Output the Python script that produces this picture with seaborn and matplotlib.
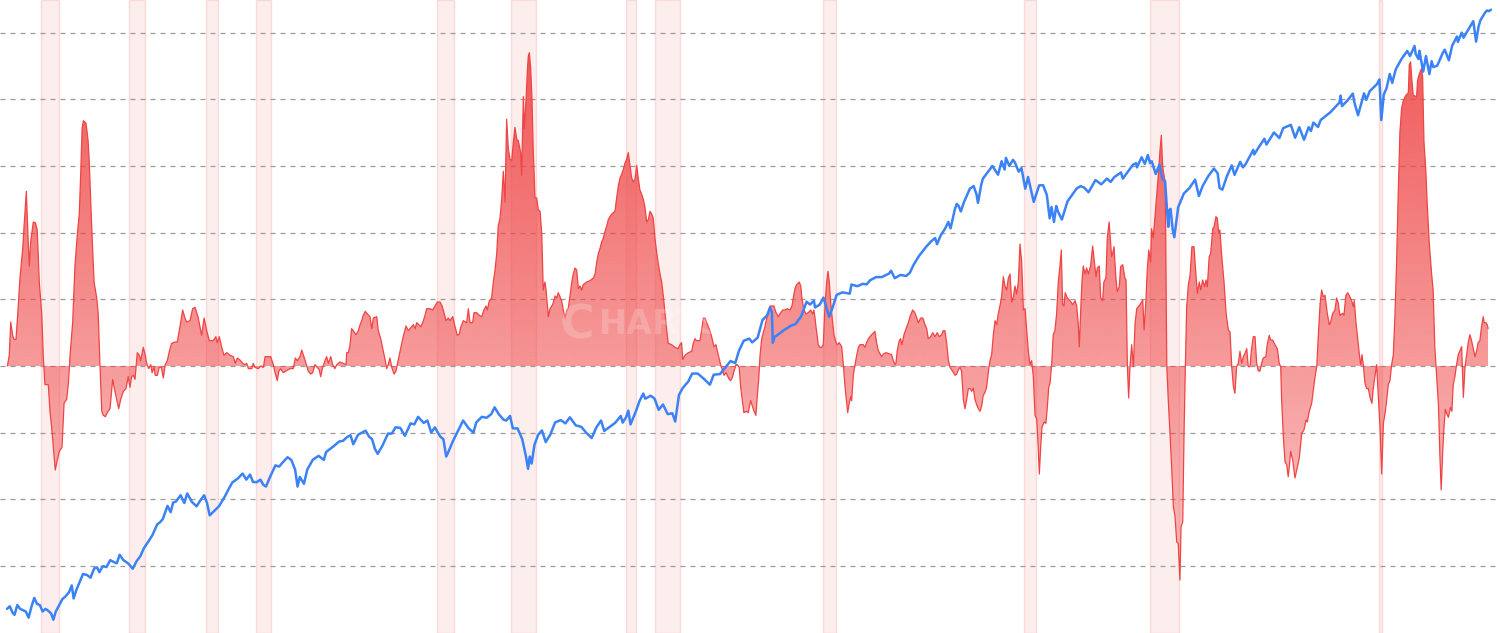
import numpy as np
import matplotlib
matplotlib.use("Agg")
import matplotlib.pyplot as plt
import seaborn as sns
from matplotlib.path import Path
from matplotlib.colors import to_rgb

# ---------------- data ----------------
# Red series: commodity producer-price index, year-over-year change (%)
red_year = [
    1947.02, 1947.12, 1947.20, 1947.30, 1947.37, 1947.48, 1947.60, 1947.69, 1947.84, 1947.91,
    1948.03, 1948.13, 1948.19, 1948.26, 1948.40, 1948.51, 1948.61, 1948.72, 1948.85, 1948.93,
    1949.02, 1949.20, 1949.29, 1949.38, 1949.47, 1949.57, 1949.68, 1949.79, 1949.93, 1950.04,
    1950.18, 1950.27, 1950.36, 1950.50, 1950.62, 1950.75, 1950.85, 1950.93, 1951.00, 1951.07,
    1951.21, 1951.32, 1951.38, 1951.51, 1951.64, 1951.78, 1951.86, 1951.95, 1952.05, 1952.13,
    1952.24, 1952.34, 1952.49, 1952.63, 1952.75, 1952.84, 1952.95, 1953.06, 1953.20, 1953.34,
    1953.46, 1953.55, 1953.64, 1953.73, 1953.82, 1953.94, 1954.05, 1954.12, 1954.26, 1954.37,
    1954.44, 1954.55, 1954.66, 1954.73, 1954.83, 1954.90, 1955.01, 1955.11, 1955.22, 1955.33,
    1955.43, 1955.54, 1955.65, 1955.77, 1955.95, 1956.07, 1956.22, 1956.36, 1956.48, 1956.57,
    1956.75, 1956.89, 1957.02, 1957.19, 1957.37, 1957.50, 1957.64, 1957.78, 1957.99, 1958.13,
    1958.20, 1958.31, 1958.44, 1958.56, 1958.70, 1958.88, 1959.06, 1959.16, 1959.27, 1959.41,
    1959.56, 1959.68, 1959.77, 1959.86, 1960.04, 1960.12, 1960.21, 1960.39, 1960.52, 1960.66,
    1960.75, 1961.05, 1961.19, 1961.28, 1961.40, 1961.48, 1961.58, 1961.72, 1961.83, 1962.08,
    1962.25, 1962.36, 1962.47, 1962.61,
    1962.70, 1962.82, 1962.93, 1963.05, 1963.18, 1963.29, 1963.41, 1963.53, 1963.64, 1963.71,
    1963.82, 1963.94, 1964.03, 1964.12, 1964.25, 1964.35, 1964.47, 1964.57, 1964.74, 1964.92,
    1965.06, 1965.10, 1965.18, 1965.27, 1965.36, 1965.45, 1965.59, 1965.72, 1965.81, 1965.90,
    1965.98, 1966.09, 1966.20, 1966.34, 1966.43, 1966.52, 1966.70, 1966.78, 1966.91, 1967.05,
    1967.14, 1967.23, 1967.31, 1967.40, 1967.50, 1967.62, 1967.72, 1967.85, 1967.97, 1968.11,
    1968.26, 1968.38, 1968.56, 1968.65, 1968.74, 1968.83, 1969.04, 1969.15, 1969.27, 1969.36,
    1969.54, 1969.68, 1969.80, 1969.93, 1970.07, 1970.18, 1970.28, 1970.39, 1970.51, 1970.60,
    1970.75, 1970.87, 1970.99, 1971.10, 1971.17, 1971.31, 1971.49, 1971.58, 1971.67, 1971.81,
    1971.88, 1972.02, 1972.16, 1972.29, 1972.41, 1972.52, 1972.59, 1972.70, 1972.82, 1972.91,
    1973.00, 1973.09, 1973.17, 1973.27, 1973.36, 1973.44, 1973.53, 1973.62, 1973.71, 1973.80,
    1973.89, 1973.97, 1974.06, 1974.16, 1974.24, 1974.37, 1974.42, 1974.51, 1974.56, 1974.65,
    1974.72, 1974.77, 1974.83, 1974.90, 1974.97, 1975.04, 1975.13, 1975.22, 1975.31, 1975.40,
    1975.49, 1975.57, 1975.66, 1975.72, 1975.84, 1975.93, 1976.07, 1976.20, 1976.29, 1976.37,
    1976.46, 1976.55, 1976.64, 1976.73, 1976.82, 1976.90, 1976.99, 1977.09, 1977.17, 1977.26,
    1977.35, 1977.44, 1977.53, 1977.62, 1977.70, 1977.88, 1978.06, 1978.24, 1978.33, 1978.42,
    1978.50, 1978.59, 1978.68, 1978.77, 1978.86, 1978.95, 1979.04, 1979.22, 1979.39, 1979.48,
    1979.57, 1979.66, 1979.75, 1979.83, 1979.92, 1980.01, 1980.10, 1980.19, 1980.28, 1980.37,
    1980.46, 1980.55, 1980.63, 1980.72, 1980.81, 1980.90, 1980.99, 1981.08, 1981.17, 1981.26,
    1981.35, 1981.43, 1981.52, 1981.61, 1981.70, 1981.79, 1981.88, 1981.97, 1982.06, 1982.15,
    1982.23, 1982.41, 1982.59, 1982.76, 1982.85, 1982.94, 1983.00, 1983.12, 1983.30, 1983.48,
    1983.56, 1983.65, 1983.74, 1983.92, 1984.01, 1984.10, 1984.19, 1984.28, 1984.36,
    1984.45, 1984.54, 1984.67, 1984.77, 1984.84, 1984.95, 1985.02, 1985.13, 1985.20, 1985.31,
    1985.37, 1985.48, 1985.56, 1985.66, 1985.73, 1985.84, 1985.91, 1986.01, 1986.09, 1986.20,
    1986.26, 1986.37, 1986.49, 1986.62, 1986.73, 1986.80, 1986.90, 1986.97, 1987.05, 1987.12,
    1987.21, 1987.29, 1987.38, 1987.47, 1987.56, 1987.65, 1987.79, 1987.86, 1987.97, 1988.09,
    1988.22, 1988.33, 1988.45, 1988.57, 1988.72, 1988.82, 1988.89, 1988.98, 1989.07, 1989.21,
    1989.29, 1989.35, 1989.46, 1989.57, 1989.69, 1989.82, 1989.92, 1989.99, 1990.05, 1990.10,
    1990.17, 1990.22, 1990.31, 1990.40, 1990.49, 1990.58, 1990.67, 1990.74, 1990.81, 1990.88,
    1990.99, 1991.06, 1991.17, 1991.24, 1991.34, 1991.47, 1991.56, 1991.65, 1991.74, 1991.79,
    1991.87, 1991.95, 1992.00, 1992.09, 1992.18, 1992.27, 1992.36, 1992.44, 1992.62, 1992.71,
    1992.80, 1992.89, 1993.07, 1993.24, 1993.33, 1993.42, 1993.60, 1993.69, 1993.83, 1994.13,
    1994.22, 1994.31, 1994.36, 1994.43, 1994.54, 1994.61, 1994.68, 1994.79, 1994.90, 1995.02,
    1995.11,
    1995.25, 1995.37, 1995.47, 1995.55, 1995.68, 1995.79, 1995.91, 1996.00, 1996.08, 1996.21,
    1996.32, 1996.44, 1996.56, 1996.67, 1996.80, 1996.88, 1996.97, 1997.06, 1997.15, 1997.24,
    1997.38, 1997.51, 1997.60, 1997.68, 1997.77, 1997.86, 1997.95, 1998.04, 1998.13, 1998.22,
    1998.31, 1998.40, 1998.48, 1998.57, 1998.66, 1998.75, 1998.84, 1998.93, 1999.01, 1999.10,
    1999.19, 1999.28, 1999.37, 1999.46, 1999.55, 1999.64, 1999.73, 1999.81, 1999.90, 1999.99,
    2000.08, 2000.17, 2000.26, 2000.35, 2000.44, 2000.53, 2000.62, 2000.70, 2000.79, 2000.88,
    2000.97, 2001.06, 2001.15, 2001.24, 2001.33, 2001.41, 2001.50, 2001.59, 2001.68, 2001.77,
    2001.86, 2001.94, 2002.00, 2002.07, 2002.14, 2002.25, 2002.35, 2002.42, 2002.50, 2002.57,
    2002.66, 2002.74, 2002.83, 2002.92, 2003.01, 2003.10, 2003.17, 2003.24, 2003.31, 2003.38,
    2003.49, 2003.63, 2003.78, 2003.90, 2003.99, 2004.07, 2004.13, 2004.20, 2004.27, 2004.34,
    2004.43, 2004.52, 2004.61, 2004.73, 2004.84, 2004.91, 2005.02, 2005.09, 2005.19, 2005.27,
    2005.37, 2005.44, 2005.55, 2005.62, 2005.72,
    2005.85, 2005.91, 2005.98, 2006.08, 2006.15, 2006.26, 2006.33, 2006.44, 2006.56, 2006.62,
    2006.69, 2006.76, 2006.83, 2006.92, 2007.01, 2007.10, 2007.19, 2007.36, 2007.51, 2007.58,
    2007.68, 2007.75, 2007.83, 2007.93, 2007.98, 2008.07, 2008.16, 2008.25, 2008.36, 2008.43,
    2008.50, 2008.57, 2008.64, 2008.71, 2008.79, 2008.87, 2008.96, 2009.05, 2009.14, 2009.23,
    2009.32, 2009.40, 2009.49, 2009.55, 2009.64, 2009.71, 2009.78, 2009.85, 2009.94, 2010.03,
    2010.13, 2010.24, 2010.35, 2010.42, 2010.52, 2010.60, 2010.70, 2010.81, 2010.88, 2010.95,
    2011.05, 2011.13, 2011.24, 2011.31, 2011.41, 2011.48, 2011.56, 2011.62, 2011.72, 2011.84,
    2011.95, 2012.07, 2012.16, 2012.25, 2012.34, 2012.42, 2012.51, 2012.60, 2012.69, 2012.78,
    2012.87, 2012.96, 2013.05, 2013.13, 2013.22, 2013.31, 2013.40, 2013.49, 2013.58, 2013.66,
    2013.75, 2013.84, 2013.93, 2014.07, 2014.14, 2014.25, 2014.32, 2014.43, 2014.55, 2014.68,
    2014.78, 2014.86, 2014.91, 2015.00, 2015.09, 2015.18, 2015.26, 2015.32, 2015.39, 2015.50,
    2015.62, 2015.71, 2015.85, 2015.98, 2016.10, 2016.21, 2016.28, 2016.38, 2016.51, 2016.60,
    2016.69, 2016.78, 2016.87, 2016.96, 2017.04, 2017.13, 2017.22, 2017.34, 2017.45, 2017.52,
    2017.63, 2017.75, 2017.84, 2017.93, 2018.01, 2018.16, 2018.23, 2018.33, 2018.43, 2018.54,
    2018.64, 2018.73, 2018.78, 2018.87, 2018.94, 2019.05, 2019.12, 2019.19, 2019.26, 2019.35,
    2019.44, 2019.53, 2019.62, 2019.72, 2019.79, 2019.88, 2019.97, 2020.06, 2020.15, 2020.24,
    2020.33, 2020.42, 2020.51, 2020.59, 2020.68, 2020.77, 2020.86, 2020.95, 2021.04, 2021.12,
    2021.21, 2021.30, 2021.39, 2021.53, 2021.66, 2021.71, 2021.78, 2021.85, 2021.92, 2022.10,
    2022.15, 2022.24, 2022.36, 2022.42, 2022.49, 2022.59, 2022.66, 2022.77, 2022.90, 2022.98,
    2023.07, 2023.13, 2023.20, 2023.27, 2023.34, 2023.41, 2023.49, 2023.56, 2023.63, 2023.70,
    2023.79, 2023.91, 2023.98, 2024.05, 2024.14, 2024.23, 2024.32, 2024.41, 2024.50, 2024.59,
    2024.68, 2024.77, 2024.85, 2024.94, 2025.03, 2025.12, 2025.21, 2025.30, 2025.38, 2025.47,
    2025.56, 2025.65, 2025.70, 2025.79, 2025.86, 2025.91,
]
red_pct = [
    0.0, 0.8, 3.3, 2.3, 2.0, 2.0, 4.5, 6.6, 8.85, 10.5,
    13.1, 9.3, 7.5, 9.3, 10.8, 10.75, 10.2, 6.3, 3.9, 0.8,
    -1.4, -1.4, -3.4, -4.6, -6.1, -7.8, -7.05, -6.4, -6.1, -2.8,
    -2.5, -1.3, 0.8, 3.3, 7.5, 9.9, 11.4, 14.5, 17.8, 18.4,
    18.2, 16.9, 15.4, 10.5, 6.3, 5.1, 3.9, 0.2, -3.4, -3.7,
    -3.8, -3.5, -3.2, -1.0, -1.9, -2.5, -3.2, -2.5, -1.9, -1.7,
    -0.8, -1.6, -0.8, -0.7, -1.0, 1.0, 0.8, 0.4, 1.4, 0.8,
    0.2, -0.2, 0.1, -0.5, -0.1, -0.7, -0.7, -0.1, -0.1, -0.9,
    0.1, 0.4, 1.1, 1.7, 1.8, 1.8, 3.0, 4.2, 3.6, 3.3,
    3.4, 4.3, 4.4, 3.6, 2.3, 3.6, 2.65, 1.9, 1.9, 2.2,
    1.75, 2.2, 1.4, 0.8, 1.0, 0.8, 0.7, 0.2, 0.6, 0.45,
    0.2, 0.1, 0.2, -0.2, -0.2, 0.2, -0.1, -0.2, 0.0, -0.1,
    0.7, 0.7, 0.1, -0.5, -1.1, -0.4, -0.2, -0.5, -0.4, -0.2,
    -0.2, 0.6, 0.4, 0.7,
    1.2, 0.7, 0.2, -0.4, -0.6, -0.5, 0.1, -0.1, -0.3, -0.8,
    -0.1, 0.4, 0.7, 0.2, 0.7, 0.1, -0.2, 0.1, 0.3, 0.2,
    0.1, 1.0, 1.0, 1.5, 2.8, 2.65, 2.35, 2.65, 3.1, 3.4,
    3.8, 4.1, 3.9, 3.7, 2.8, 3.6, 3.7, 2.65, 2.05, 1.1,
    0.5, -0.2, 0.1, 0.6, -0.1, -0.6, -0.4, 0.5, 1.3, 2.2,
    3.0, 2.65, 2.95, 3.1, 2.8, 3.25, 2.95, 3.25, 3.8, 4.3,
    4.3, 4.2, 4.5, 4.8, 4.8, 4.5, 4.0, 3.4, 3.6, 3.4,
    3.7, 2.95, 2.3, 2.4, 2.9, 3.4, 3.25, 4.3, 3.25, 3.25,
    4.0, 4.0, 3.8, 3.7, 4.2, 4.5, 4.2, 4.9, 5.1, 6.3,
    7.2, 8.4, 10.5, 11.1, 12.6, 14.6, 12.3, 18.5, 16.3, 15.5,
    15.4, 16.7, 17.9, 17.0, 16.9, 16.0, 14.3, 20.2, 17.8, 19.9,
    22.0, 23.2, 23.5, 22.3, 20.0, 16.0, 12.6, 12.6, 11.7, 11.6,
    9.9, 5.7, 6.3, 5.7, 3.7, 4.3, 4.6, 5.25, 5.1, 5.5,
    5.2, 4.9, 4.2, 3.6, 4.2, 4.3, 5.2, 6.3, 6.9, 7.35,
    7.2, 5.8, 6.0, 5.7, 6.1, 6.3, 6.4, 6.6, 6.9, 7.8,
    8.4, 8.8, 9.3, 9.6, 10.1, 10.5, 11.0, 11.4, 11.6, 12.6,
    13.5, 14.1, 14.4, 14.7, 15.2, 15.5, 16.0, 15.05, 14.1, 13.8,
    14.0, 15.05, 14.1, 13.2, 12.9, 12.5, 11.9, 10.8, 11.0, 11.6,
    11.4, 11.1, 9.6, 8.55, 7.65, 6.9, 6.3, 5.2, 3.9, 2.65,
    1.7, 1.6, 1.4, 1.3, 1.6, 1.75, 0.5, 0.8, 1.0, 1.1,
    1.7, 2.05, 1.9, 1.9, 2.7, 3.6, 3.6, 3.25, 2.95,
    2.65, 2.2, 1.45, 1.6, 1.15, 0.5, 0.1, -0.4, -0.7, -0.5,
    -0.7, -1.0, -1.1, -0.8, -0.4, 0.1, 0.1, -0.1, -1.6, -2.8,
    -3.5, -3.4, -3.5, -2.6, -3.1, -3.4, -3.7, -2.3, -1.0, 0.8,
    2.05, 2.5, 2.95, 3.55, 4.0, 4.5, 4.5, 4.5, 4.0, 3.7,
    4.0, 4.2, 4.2, 4.3, 4.2, 4.5, 5.1, 5.8, 6.1, 6.3,
    6.0, 5.1, 4.2, 3.9, 4.0, 4.2, 3.9, 4.2, 3.6, 2.95,
    2.2, 1.6, 1.4, 1.4, 1.6, 4.5, 6.3, 7.1, 6.3, 4.8,
    3.25, 2.35, 1.75, 1.6, 1.75, 1.45, 0.1, -1.6, -2.8, -3.5,
    -2.8, -2.3, -2.6, -0.7, 0.1, 0.8, 1.4, 1.6, 1.6, 1.4,
    1.75, 2.05, 2.35, 2.6, 1.75, 1.15, 0.7, 0.9, 1.0, 0.85,
    0.4, 0.1, 0.2, 1.15, 1.9, 2.05, 1.6, 2.35, 2.8, 3.25,
    3.7,
    4.2, 4.0, 3.6, 3.25, 3.6, 3.6, 3.1, 2.8, 2.05, 2.2,
    2.5, 2.2, 2.5, 2.2, 2.35, 2.65, 2.65, 1.75, 0.5, -0.1,
    -0.4, -0.7, -0.6, -0.3, -0.1, -0.4, -2.5, -3.2, -2.5, -1.7,
    -1.7, -1.9, -1.65, -2.5, -2.9, -3.2, -3.4, -3.0, -2.2, -2.0,
    -1.6, -0.5, 0.4, 0.85, 2.35, 3.4, 3.1, 3.9, 4.5, 5.2,
    6.7, 6.0, 5.7, 6.6, 6.9, 4.8, 5.2, 6.0, 5.4, 6.3,
    9.15, 7.8, 4.2, 4.3, 2.65, 1.15, 0.1, 0.4, -0.8, -3.7,
    -4.0, -6.1, -8.1, -6.1, -4.6, -4.2, -4.3, -3.2, -1.6, -1.3,
    0.2, 2.35, 2.65, 3.9, 6.3, 7.5, 8.7, 4.6, 4.5, 5.5,
    5.1, 4.9, 4.6, 4.9, 4.5, 3.25, 1.45, 4.0, 6.3, 7.5,
    6.9, 7.35, 6.9, 7.5, 9.0, 8.1, 6.7, 7.35, 7.5, 5.1,
    4.9, 6.3, 6.6, 9.6, 10.8,
    8.2, 8.45, 8.95, 6.6, 5.6, 5.95, 7.45, 7.6, 6.6, 6.45,
    -0.05, -2.4, -0.05, 1.6, -0.05, 3.2, 4.3, 4.6, 4.95, 2.7,
    4.95, 7.2, 8.7, 7.8, 10.3, 9.6, 11.2, 12.7, 14.7, 16.2,
    17.3, 14.95, 14.3, 13.7, -0.05, -2.55, -5.05, -7.55, -10.55, -11.3,
    -13.2, -13.3, -16.05, -12.05, -11.7, -5.05, -0.05, 4.45, 6.1, 6.8,
    8.95, 8.95, 6.7, 5.45, 6.3, 5.7, 6.45, 5.95, 6.45, 5.95,
    8.2, 8.45, 10.3, 10.45, 11.2, 11.1, 9.95, 10.2, 8.2, 6.3,
    3.95, 2.7, 2.55, -0.05, -1.55, -2.05, -0.05, 0.2, 1.1, 0.2,
    0.7, 0.95, 1.3, -0.05, -0.05, 1.3, 2.2, 2.2, 0.2, -0.35,
    -0.4, 0.2, 0.6, 0.7, 1.6, 2.3, 1.95, 1.95, 1.6, 1.3,
    0.2, -0.05, -2.55, -5.3, -7.2, -7.4, -8.3, -7.55, -6.4, -7.05,
    -8.4, -7.8, -6.9, -5.05, -4.8, -4.05, -4.2, -3.4, -2.8, -1.8,
    -0.8, -0.05, 2.45, 4.7, 5.7, 5.2, 5.3, 3.95, 3.1, 3.3,
    3.95, 4.2, 5.1, 4.7, 3.8, 3.95, 3.8, 5.3, 5.5, 5.2,
    4.9, 4.45, 4.9, 3.25, 2.35, 0.85, 0.1, 0.85, 0.1, -1.3,
    -1.7, -1.7, -2.35, -2.8, -1.7, -0.8, 0.1, -2.2, -4.6, -8.1,
    -4.3, -3.55, -2.5, -1.4, -1.1, 0.1, 0.85, 3.9, 8.1, 12.9,
    17.5, 19.3, 19.9, 20.3, 20.5, 22.6, 22.8, 21.4, 20.3, 20.2,
    21.4, 21.9, 22.3, 21.7, 16.9, 14.7, 12.3, 9.3, 6.9, 5.7,
    1.45, 0.1, -1.6, -3.1, -6.7, -9.3, -6.4, -4.6, -3.25, -3.55,
    -3.85, -3.1, -3.4, -1.4, -0.8, 0.1, 0.85, 1.15, 1.45, -2.35,
    -0.1, 0.85, 1.75, 2.35, 1.9, 1.3, 0.7, 1.15, 1.75, 1.9,
    2.95, 3.7, 3.25, 3.25, 3.1, 2.8,
]

# Blue series: S&P 500 index level (log scale)
spx_year = [
    1947.00, 1947.15, 1947.30, 1947.40, 1947.55, 1947.70, 1947.85, 1948.00, 1948.15, 1948.30,
    1948.45, 1948.60, 1948.75, 1948.90, 1949.05, 1949.20, 1949.35, 1949.47, 1949.60, 1949.75,
    1949.95, 1950.10, 1950.30, 1950.45, 1950.55, 1950.70, 1950.85, 1951.05, 1951.25, 1951.45,
    1951.65, 1951.80, 1951.92, 1952.10, 1952.30, 1952.50, 1952.70, 1952.85, 1953.00, 1953.20,
    1953.45, 1953.70, 1953.90, 1954.10, 1954.30, 1954.55, 1954.75, 1955.00, 1955.15, 1955.30,
    1955.55, 1955.72, 1955.85, 1956.00, 1956.25, 1956.45, 1956.60, 1956.85, 1957.10, 1957.30,
    1957.50, 1957.65, 1957.80, 1958.00, 1958.30, 1958.60, 1958.80, 1959.00, 1959.30, 1959.55,
    1959.75, 1959.95, 1960.10, 1960.30, 1960.50, 1960.65, 1960.80, 1961.00, 1961.30, 1961.50,
    1961.70, 1961.95, 1962.15, 1962.35, 1962.48, 1962.60, 1962.82, 1963.00, 1963.30, 1963.60,
    1963.88, 1964.00, 1964.40, 1964.70, 1964.90, 1965.10, 1965.30, 1965.45, 1965.70, 1966.10,
    1966.30, 1966.45, 1966.60, 1966.75, 1967.00, 1967.30, 1967.50, 1967.70, 1967.95, 1968.20,
    1968.50, 1968.70, 1968.90, 1969.20, 1969.40, 1969.60, 1969.80, 1969.95, 1970.10, 1970.25,
    1970.40, 1970.50, 1970.75, 1970.99, 1971.30, 1971.60, 1971.85, 1972.00, 1972.30, 1972.55,
    1972.80, 1972.98, 1973.20, 1973.45, 1973.60, 1973.80, 1973.95, 1974.20, 1974.45, 1974.65,
    1974.76, 1974.85, 1974.95, 1975.10, 1975.30, 1975.50, 1975.70, 1975.95, 1976.20, 1976.50,
    1976.75, 1976.99, 1977.30, 1977.60, 1977.85, 1978.15, 1978.40, 1978.65, 1978.82, 1979.00,
    1979.40, 1979.70, 1979.80, 1979.99, 1980.10, 1980.22, 1980.50, 1980.70, 1980.90, 1981.00,
    1981.30, 1981.50, 1981.72, 1981.95, 1982.20, 1982.45, 1982.60, 1982.80, 1983.00, 1983.30,
    1983.50, 1983.80, 1984.10, 1984.45, 1984.65, 1984.99, 1985.30, 1985.55, 1985.80, 1985.99,
    1986.25, 1986.55, 1986.70, 1986.99, 1987.25, 1987.50, 1987.65, 1987.75, 1987.80, 1987.90,
    1987.99, 1988.40, 1988.80, 1988.99, 1989.30, 1989.60, 1989.78, 1989.99, 1990.05, 1990.30,
    1990.50, 1990.80, 1990.99, 1991.20, 1991.50, 1991.90, 1991.99, 1992.30, 1992.60, 1992.80,
    1992.99, 1993.30, 1993.60, 1993.99, 1994.10, 1994.30, 1994.60, 1994.90, 1995.10, 1995.30,
    1995.60, 1995.99, 1996.25, 1996.45, 1996.55, 1996.75, 1996.99, 1997.15, 1997.27, 1997.50,
    1997.60, 1997.70, 1997.82, 1997.99, 1998.30, 1998.50, 1998.65, 1998.73, 1998.90, 1998.99,
    1999.30, 1999.50, 1999.80, 1999.99, 2000.15, 2000.22, 2000.40, 2000.60, 2000.70, 2000.90,
    2001.05, 2001.25, 2001.40, 2001.70, 2001.99, 2002.20, 2002.40, 2002.55, 2002.65, 2002.78,
    2002.90, 2002.99, 2003.20, 2003.50, 2003.99, 2004.20, 2004.40, 2004.62, 2004.99, 2005.30,
    2005.60, 2005.80, 2005.99, 2006.35, 2006.45, 2006.99, 2007.15, 2007.20, 2007.45, 2007.62,
    2007.78, 2007.90, 2007.99, 2008.20, 2008.40, 2008.55, 2008.70, 2008.80, 2008.87, 2008.92,
    2008.99, 2009.10, 2009.19, 2009.40, 2009.70, 2009.99, 2010.30, 2010.50, 2010.70, 2010.99,
    2011.30, 2011.50, 2011.60, 2011.75, 2011.99, 2012.25, 2012.40, 2012.70, 2012.85, 2012.99,
    2013.40, 2013.45, 2013.70, 2013.99, 2014.10, 2014.50, 2014.79, 2014.99, 2015.40, 2015.63,
    2015.85, 2016.10, 2016.35, 2016.47, 2016.60, 2016.85, 2016.99, 2017.50, 2017.99, 2018.05,
    2018.12, 2018.40, 2018.70, 2018.80, 2018.98, 2019.30, 2019.42, 2019.60, 2019.99, 2020.12,
    2020.22, 2020.35, 2020.50, 2020.67, 2020.80, 2020.99, 2021.30, 2021.60, 2021.75, 2021.99,
    2022.05, 2022.20, 2022.25, 2022.45, 2022.60, 2022.78, 2022.90, 2022.99, 2023.20, 2023.50,
    2023.60, 2023.82, 2023.99, 2024.25, 2024.30, 2024.50, 2024.60, 2024.99, 2025.12, 2025.27,
    2025.40, 2025.50, 2025.75, 2025.85, 2025.95, 2026.06,
]
spx = [
    15.2, 15.6, 14.6, 14.3, 15.8, 15.2, 15.0, 14.8, 13.9, 15.5,
    17.0, 16.0, 15.8, 14.8, 15.2, 14.9, 14.5, 13.6, 14.8, 15.6,
    16.8, 17.2, 18.0, 19.3, 16.9, 18.5, 19.8, 21.7, 21.5, 20.9,
    23.0, 23.2, 22.1, 23.5, 23.3, 25.0, 24.5, 24.2, 26.4, 25.0,
    24.2, 22.9, 24.7, 26.0, 28.3, 30.4, 32.3, 36.0, 36.8, 38.0,
    43.5, 40.8, 45.0, 45.5, 48.5, 44.8, 49.4, 45.3, 43.3, 46.0,
    48.5, 45.0, 39.5, 41.0, 43.4, 47.8, 51.5, 55.2, 57.6, 60.5,
    56.9, 59.9, 55.6, 55.4, 56.9, 54.0, 53.0, 58.1, 65.8, 65.0,
    68.0, 71.5, 69.5, 63.0, 53.0, 58.5, 54.5, 63.1, 69.8, 72.5,
    69.6, 75.4, 80.0, 84.0, 84.5, 87.6, 89.5, 81.6, 89.9, 93.8,
    88.0, 86.0, 78.0, 74.0, 80.4, 91.0, 91.0, 97.0, 96.5, 89.0,
    101.0, 100.0, 108.0, 101.5, 104.0, 92.0, 97.0, 92.0, 88.0, 86.0,
    72.0, 75.0, 84.0, 92.2, 104.0, 96.0, 92.0, 102.0, 108.0, 107.0,
    111.0, 119.0, 111.0, 105.0, 104.0, 109.0, 96.0, 96.0, 86.0, 72.0,
    63.5, 72.0, 67.0, 81.0, 90.0, 94.0, 83.5, 90.2, 102.0, 104.5,
    101.0, 107.5, 99.0, 97.5, 92.0, 87.0, 97.0, 104.0, 93.5, 96.0,
    101.5, 109.0, 101.8, 107.9, 115.0, 100.0, 114.0, 127.0, 137.0, 130.0,
    134.0, 130.0, 116.0, 122.5, 111.0, 112.0, 103.0, 135.0, 145.0, 155.0,
    168.0, 168.0, 160.0, 150.0, 166.0, 167.2, 180.0, 191.0, 187.0, 211.3,
    235.0, 240.0, 231.0, 242.2, 290.0, 305.0, 330.0, 315.0, 230.0, 245.0,
    247.1, 262.0, 275.0, 277.7, 300.0, 350.0, 340.0, 353.4, 330.0, 340.0,
    365.0, 300.0, 330.2, 375.0, 385.0, 380.0, 417.1, 410.0, 420.0, 418.0,
    435.7, 450.0, 450.0, 466.5, 480.0, 445.0, 460.0, 455.0, 470.0, 510.0,
    560.0, 615.9, 650.0, 670.0, 630.0, 690.0, 740.7, 790.0, 740.0, 900.0,
    950.0, 930.0, 880.0, 970.4, 1110.0, 1140.0, 1050.0, 960.0, 1150.0, 1229.2,
    1330.0, 1400.0, 1280.0, 1469.3, 1350.0, 1520.0, 1400.0, 1490.0, 1450.0, 1320.0,
    1370.0, 1110.0, 1250.0, 970.0, 1148.1, 1150.0, 1040.0, 820.0, 920.0, 790.0,
    930.0, 879.8, 810.0, 975.0, 1111.9, 1140.0, 1120.0, 1070.0, 1211.9, 1160.0,
    1230.0, 1190.0, 1248.3, 1310.0, 1230.0, 1418.3, 1440.0, 1380.0, 1530.0, 1430.0,
    1565.0, 1440.0, 1468.4, 1290.0, 1420.0, 1230.0, 1200.0, 900.0, 752.0, 890.0,
    903.3, 735.0, 676.0, 920.0, 1057.0, 1115.1, 1217.0, 1030.0, 1140.0, 1257.6,
    1363.0, 1300.0, 1120.0, 1099.0, 1257.6, 1408.0, 1278.0, 1460.0, 1380.0, 1426.2,
    1650.0, 1575.0, 1700.0, 1848.4, 1741.0, 1970.0, 1862.0, 2058.9, 2130.0, 1867.0,
    2080.0, 1829.0, 2080.0, 2000.0, 2180.0, 2085.0, 2238.8, 2420.0, 2673.6, 2870.0,
    2580.0, 2720.0, 2930.0, 2650.0, 2350.0, 2940.0, 2750.0, 3000.0, 3230.8, 3386.0,
    2237.0, 2900.0, 3100.0, 3580.0, 3270.0, 3756.1, 4180.0, 4530.0, 4300.0, 4766.2,
    4400.0, 4170.0, 4540.0, 3667.0, 4300.0, 3577.0, 4080.0, 3839.5, 3900.0, 4450.0,
    4590.0, 4117.0, 4769.8, 5254.0, 4967.0, 5460.0, 5186.0, 5881.6, 6144.0, 4982.0,
    5800.0, 6200.0, 6700.0, 6850.0, 6800.0, 6900.0,
]

# NBER recessions (start, end) in decimal years
rec_start = [1948.83, 1953.50, 1957.58, 1960.25, 1969.92, 1973.83, 1980.00, 1981.50,
             1990.50, 2001.17, 2007.92, 2020.08]
rec_end = [1949.75, 1954.33, 1958.25, 1961.08, 1970.83, 1975.17, 1980.50, 1982.83,
           1991.17, 2001.83, 2009.42, 2020.25]
grid_levels = [-15, -10, -5, 0, 5, 10, 15, 20, 25]

# ---------------- style ----------------
RED = "#ef4444"
BLUE = "#3b82f6"
sns.set_style("white")
plt.rcParams["font.family"] = ["DejaVu Sans"]

fig = plt.figure(figsize=(15, 6.33), dpi=100)
ax = fig.add_axes([0, 0, 1496 / 1500, 1])
XLIM = (1946.627, 2026.33)
YLIM = (-20.025, 27.45)

# recession bands
for s, e in zip(rec_start, rec_end):
    ax.axvspan(s, e, facecolor=(*to_rgb(RED), 0.09), edgecolor=(*to_rgb(RED), 0.16),
               linewidth=1.0, zorder=0)

# gridlines
ax.set_yticks(grid_levels)
ax.yaxis.grid(True, color="#9a9a9a", linestyle=(0, (4, 4)), linewidth=0.9)
ax.xaxis.grid(False)
ax.set_axisbelow(True)

# red gradient area
ryear = np.array(red_year)
rval = np.array(red_pct)
poly = ax.fill_between(ryear, rval, 0, color="none", linewidth=0)
clip = Path.make_compound_path(*poly.get_paths())
vmin, vmax = rval.min(), rval.max()
n = 256
alpha = np.linspace(0.30, 0.88, n)
grad = np.zeros((n, 1, 4))
grad[:, 0, :3] = to_rgb(RED)
grad[:, 0, 3] = alpha
img = ax.imshow(grad, extent=[ryear.min(), ryear.max(), vmin, vmax], origin="lower",
                aspect="auto", interpolation="bilinear", zorder=2)
img.set_clip_path(clip, transform=ax.transData)

sns.lineplot(x=ryear, y=rval, ax=ax, color=RED, linewidth=0.9, sort=False,
             estimator=None, zorder=3)

# faint watermark (logo letter + word)
ax.text(1977.37, 3.0, "C", color="white", alpha=0.2, fontsize=34,
        fontweight="bold", ha="center", va="center", zorder=4)
ax.text(1978.55, 3.1, "HARTS", color="white", alpha=0.2, fontsize=24,
        fontweight="bold", ha="left", va="center", zorder=4)

ax.set_xlim(*XLIM)
ax.set_ylim(*YLIM)

# blue line on a log twin axis
ax2 = ax.twinx()
sns.lineplot(x=np.array(spx_year), y=np.array(spx), ax=ax2, color=BLUE, linewidth=1.8,
             sort=False, estimator=None, zorder=5)
ax2.set_yscale("log")
ax2.set_ylim(11.88, 7622)
ax2.set_xlim(*XLIM)

for a in (ax, ax2):
    for sp in a.spines.values():
        sp.set_visible(False)
    a.tick_params(left=False, right=False, bottom=False, top=False,
                  labelleft=False, labelright=False, labelbottom=False)
    a.set_xlabel("")
    a.set_ylabel("")
ax2.yaxis.grid(False)
ax2.minorticks_off()
ax.patch.set_alpha(0)

fig.savefig("out.png", dpi=100, facecolor="white")
